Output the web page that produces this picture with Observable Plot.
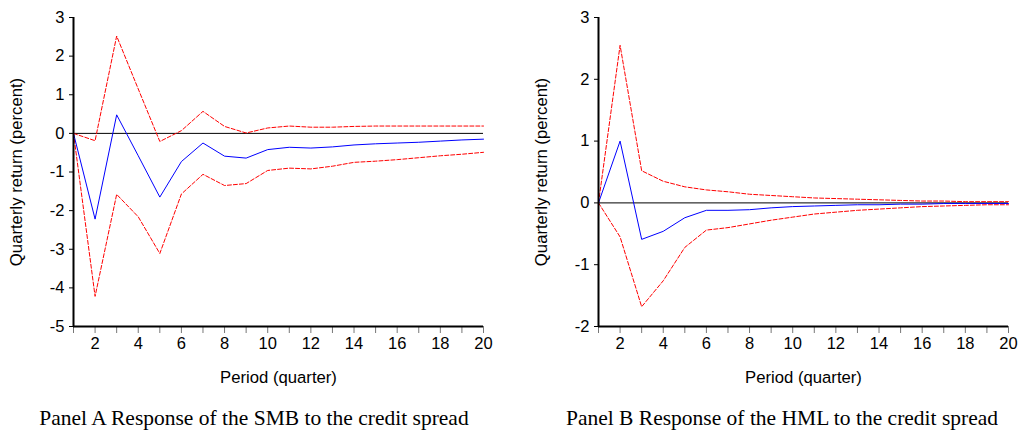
<!DOCTYPE html>
<html>
<head>
<meta charset="utf-8">
<script src="https://cdn.jsdelivr.net/npm/d3@7"></script>
<script src="https://cdn.jsdelivr.net/npm/@observablehq/plot@0.6"></script>
<style>
  body { margin: 0; background: #fff; }
  #wrap { position: relative; width: 1018px; height: 431px; overflow: hidden; background: #fff; }
  .panel { position: absolute; top: 0; }
  .cap { position: absolute; top: 408px; width: 500px; text-align: center;
         font-family: "Liberation Serif", "Times New Roman", serif; font-size: 21.5px;
         line-height: 21.5px; color: #000; white-space: nowrap; }
</style>
</head>
<body>
<div id="wrap"></div>
<script>
// ---- Data ----
const periods = [1, 2, 3, 4, 5, 6, 7, 8, 9, 10, 11, 12, 13, 14, 15, 16, 17, 18, 19, 20];
const xTickLabels = ["2", "4", "6", "8", "10", "12", "14", "16", "18", "20"];

// Panel A: response of SMB to the credit spread
const smbIrf   = [0, -2.22, 0.48, -0.58, -1.65, -0.73, -0.25, -0.59, -0.64, -0.42, -0.36, -0.38, -0.35, -0.30, -0.27, -0.25, -0.23, -0.20, -0.17, -0.15];
const smbUpper = [0, -0.19, 2.52, 1.15, -0.21, 0.07, 0.57, 0.18, 0.01, 0.14, 0.19, 0.16, 0.16, 0.18, 0.19, 0.19, 0.19, 0.19, 0.19, 0.19];
const smbLower = [0, -4.22, -1.58, -2.16, -3.11, -1.57, -1.06, -1.35, -1.30, -0.96, -0.90, -0.92, -0.85, -0.75, -0.72, -0.68, -0.63, -0.58, -0.54, -0.49];
const smbYTicks = [-5, -4, -3, -2, -1, 0, 1, 2, 3];

// Panel B: response of HML to the credit spread
const hmlIrf   = [0, 1.00, -0.59, -0.46, -0.24, -0.12, -0.12, -0.11, -0.08, -0.06, -0.05, -0.04, -0.03, -0.03, -0.02, -0.02, -0.01, -0.01, -0.01, -0.01];
const hmlUpper = [0, 2.55, 0.52, 0.35, 0.26, 0.21, 0.18, 0.14, 0.12, 0.10, 0.08, 0.07, 0.06, 0.05, 0.04, 0.03, 0.03, 0.02, 0.02, 0.02];
const hmlLower = [0, -0.55, -1.68, -1.26, -0.72, -0.44, -0.40, -0.34, -0.28, -0.23, -0.18, -0.15, -0.12, -0.10, -0.08, -0.06, -0.05, -0.04, -0.03, -0.03];
const hmlYTicks = [-2, -1, 0, 1, 2, 3];

const yTitle = "Quarterly return (percent)";
const xTitle = "Period (quarter)";
const captionA = "Panel A Response of the SMB to the credit spread";
const captionB = "Panel B Response of the HML to the credit spread";

// ---- Drawing ----
function toRows(values) {
  return periods.map((p, i) => ({period: p, value: values[i]}));
}

function panel({irf, upper, lower, yTicks, width, marginLeft, marginRight, titleDx}) {
  const yDomain = [yTicks[0], yTicks[yTicks.length - 1]];
  return Plot.plot({
    width,
    height: 390,
    marginTop: 17,
    marginBottom: 64,
    marginLeft,
    marginRight,
    style: {fontFamily: "'Liberation Sans', Arial, sans-serif", fontSize: "16.5px", color: "#000", background: "#fff", overflow: "visible"},
    x: {domain: [periods[0], periods[periods.length - 1]]},
    y: {domain: yDomain},
    marks: [
      Plot.axisY({ticks: yTicks, tickSize: 4, tickPadding: 5, tickFormat: d => String(d), label: null, fontSize: 16.5, stroke: "#000"}),
      Plot.axisX({ticks: periods, tickSize: 7, tickPadding: 4, tickFormat: d => xTickLabels.includes(String(d)) ? String(d) : "", label: null, fontSize: 16.5, stroke: "#777"}),
      Plot.text([yTitle], {frameAnchor: "left", rotate: -90, textAnchor: "middle", lineAnchor: "top", dx: titleDx, fontSize: 16.7}),
      Plot.text([xTitle], {frameAnchor: "bottom", textAnchor: "middle", lineAnchor: "middle", dy: 50.7, fontSize: 16.7}),
      Plot.ruleY([0], {stroke: "#000", strokeWidth: 1}),
      Plot.lineY(toRows(upper), {x: "period", y: "value", stroke: "#ff0000", strokeWidth: 1, strokeDasharray: "4,2"}),
      Plot.lineY(toRows(lower), {x: "period", y: "value", stroke: "#ff0000", strokeWidth: 1, strokeDasharray: "4,2"}),
      Plot.lineY(toRows(irf), {x: "period", y: "value", stroke: "#0000ff", strokeWidth: 1}),
      Plot.ruleX([periods[0]], {y1: yDomain[0], y2: yDomain[1], stroke: "#000", strokeWidth: 2}),
      Plot.ruleY([yDomain[0]], {x1: periods[0], x2: periods[periods.length - 1], stroke: "#000", strokeWidth: 2})
    ]
  });
}

const wrap = document.getElementById("wrap");

const a = panel({irf: smbIrf, upper: smbUpper, lower: smbLower, yTicks: smbYTicks, width: 500, marginLeft: 73, marginRight: 17, titleDx: -63});
a.classList.add("panel");
a.style.left = "0px";
wrap.appendChild(a);

const b = panel({irf: hmlIrf, upper: hmlUpper, lower: hmlLower, yTicks: hmlYTicks, width: 498, marginLeft: 78, marginRight: 10, titleDx: -63});
b.classList.add("panel");
b.style.left = "520px";
wrap.appendChild(b);

const capA = document.createElement("div");
capA.className = "cap";
capA.style.left = "4px";
capA.textContent = captionA;
wrap.appendChild(capA);

const capB = document.createElement("div");
capB.className = "cap";
capB.style.left = "532px";
capB.textContent = captionB;
wrap.appendChild(capB);
</script>
</body>
</html>
